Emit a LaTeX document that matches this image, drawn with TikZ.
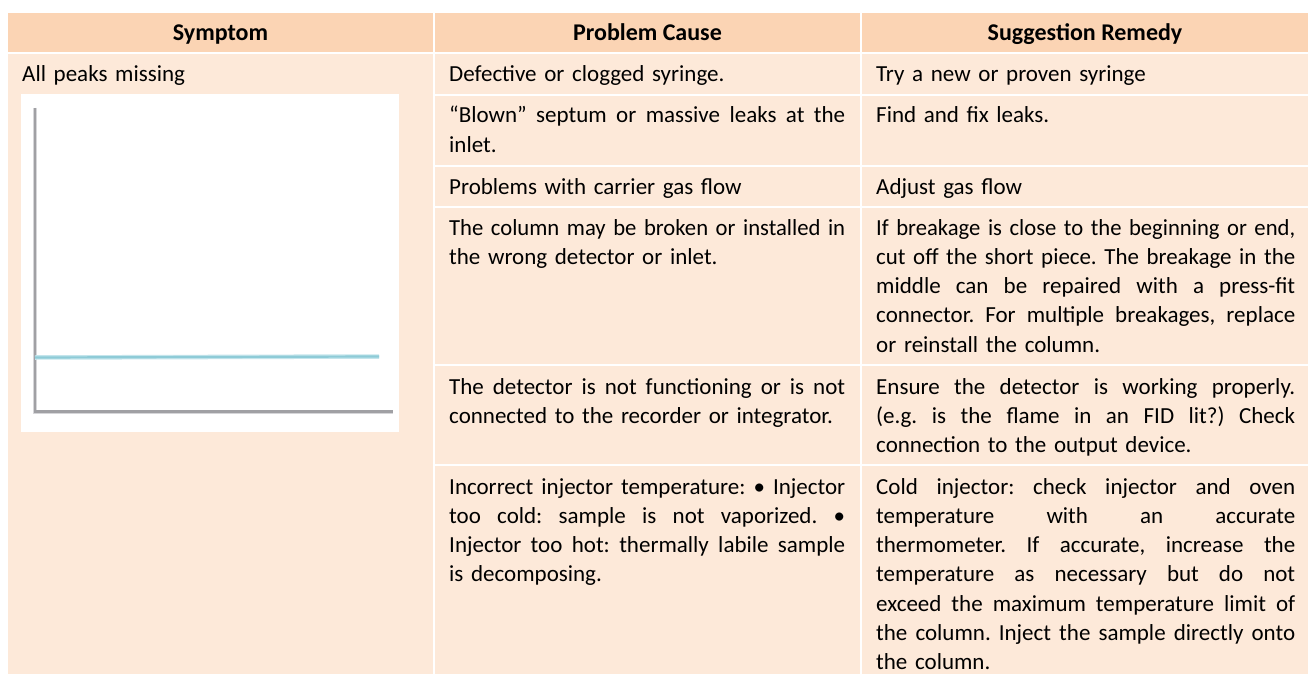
\documentclass[tikz,border=0pt]{standalone}
\usepackage{fontspec}
\usepackage{graphicx}
\setmainfont{Carlito}
\frenchspacing
\definecolor{hdr}{HTML}{FBD4B4}
\definecolor{bodyc}{HTML}{FDE9D9}
\definecolor{axisgray}{HTML}{A0A0A4}
\definecolor{axisshadow}{HTML}{D6D6D9}
\definecolor{signal}{HTML}{8ECBD7}
\definecolor{signalglow}{HTML}{C4E5EC}
\newcommand\jline[1]{\setbox0\hbox{#1}\ifdim\wd0>\linewidth
  \noindent\resizebox{\linewidth}{\ht0}{#1}\par
  \else\noindent\hbox to \linewidth{\spaceskip=\fontdimen2\font plus 1fil\relax #1}\par\fi}
\newcommand\lline[1]{\setbox0\hbox{#1}\ifdim\wd0>\linewidth
  \noindent\resizebox{\linewidth}{\ht0}{#1}\par
  \else\noindent\hbox to \linewidth{#1\hfil}\par\fi}
\begin{document}
\begin{tikzpicture}[x=1pt,y=-1pt,
  hcell/.style={fill=hdr},
  bcell/.style={fill=bodyc},
  hd/.style={font=\fontsize{24}{29.3}\selectfont\bfseries, anchor=base, inner sep=0pt},
  txa/.style={font=\fontsize{23}{29.3}\selectfont, anchor=base west, inner sep=0pt, text width=380pt},
  txb/.style={font=\fontsize{23}{29.3}\selectfont, anchor=base west, inner sep=0pt, text width=396pt},
  txc/.style={font=\fontsize{23}{29.3}\selectfont, anchor=base west, inner sep=0pt, text width=419pt}]
\useasboundingbox (0,0) rectangle (1309,674);
\fill[white] (0,0) rectangle (1309,674);
% header cells
\fill[hcell] (8,13) rectangle (433,52);
\fill[hcell] (435,13) rectangle (860,52);
\fill[hcell] (862,13) rectangle (1308,52);
% body column 1
\fill[bcell] (8,54) rectangle (433,674);
% body rows, columns 2 and 3
\foreach \ya/\yb in {54/94,96/165,167/206,208/364,366/464,466/674}{
  \fill[bcell] (435,\ya) rectangle (860,\yb);
  \fill[bcell] (862,\ya) rectangle (1308,\yb);
}
% headers
\node[hd] (h1) at (220.5,41) {Symptom};
\node[hd] (h2) at (647.5,41) {Problem Cause};
\node[hd] (h3) at (1085,41) {Suggestion Remedy};
% symptom
\node[txa] (s1) at (22,82) {\lline{All peaks missing}};
% chromatogram picture
\fill[white] (21,94) rectangle (399,432);
\draw[axisshadow, line width=4.5pt, line join=miter] (35,108) -- (35,412) -- (393,412);
\draw[axisgray, line width=2.2pt, line join=miter] (35,108) -- (35,411.5) -- (393,411.5);
\draw[signalglow, line width=4.5pt] (35,357.5) -- (379,356.5);
\draw[signal, line width=2.2pt] (35,357.5) -- (379,356.5);
% causes
\node[txb] (c1) at (449,82) {\lline{Defective or clogged syringe.}};
\node[txb] (c2) at (449,123) {\jline{“Blown” septum or massive leaks at the}\lline{inlet.}};
\node[txb] (c3) at (449,194) {\lline{Problems with carrier gas flow}};
\node[txb] (c4) at (449,235) {\jline{The column may be broken or installed in}\lline{the wrong detector or inlet.}};
\node[txb] (c5) at (449,394) {\jline{The detector is not functioning or is not}\lline{connected to the recorder or integrator.}};
\node[txb] (c6) at (449,494) {\jline{Incorrect injector temperature: • Injector}\jline{too cold: sample is not vaporized. •}\jline{Injector too hot: thermally labile sample}\lline{is decomposing.}};
% remedies
\node[txc] (r1) at (876,82) {\lline{Try a new or proven syringe}};
\node[txc] (r2) at (876,123) {\lline{Find and fix leaks.}};
\node[txc] (r3) at (876,194) {\lline{Adjust gas flow}};
\node[txc] (r4) at (876,235) {\jline{If breakage is close to the beginning or end,}\jline{cut off the short piece. The breakage in the}\jline{middle can be repaired with a press-fit}\jline{connector. For multiple breakages, replace}\lline{or reinstall the column.}};
\node[txc] (r5) at (876,394) {\jline{Ensure the detector is working properly.}\jline{(e.g. is the flame in an FID lit?) Check}\lline{connection to the output device.}};
\node[txc] (r6) at (876,494) {\jline{Cold injector: check injector and oven}\jline{temperature with an accurate}\jline{thermometer. If accurate, increase the}\jline{temperature as necessary but do not}\jline{exceed the maximum temperature limit of}\jline{the column. Inject the sample directly onto}\lline{the column.}};
\end{tikzpicture}
\end{document}
